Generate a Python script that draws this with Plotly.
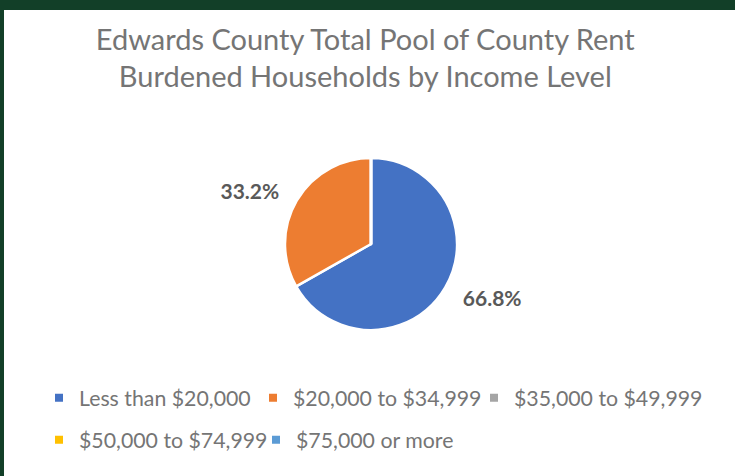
import plotly.graph_objects as go

categories = ["Less than $20,000", "$20,000 to $34,999", "$35,000 to $49,999",
              "$50,000 to $74,999", "$75,000 or more"]
values = [66.8, 33.2, 0, 0, 0]
colors = ["#4472C4", "#ED7D31", "#A5A5A5", "#FFC000", "#5B9BD5"]
title_lines = ["Edwards County Total Pool of County Rent",
               "Burdened Households by Income Level"]

W, H = 735, 476
FONT = "Lato, Open Sans, sans-serif"
GRAY = "#757575"
CX, CY, R = 371, 244, 86
R_LABEL = R + 13   # labels sit a little further out than the slice edge
# legend entry placement (left x in px, row centre y in px)
LEG_POS = [(39, 398), (253, 398), (474, 398), (39, 440), (256, 440)]


def dom(r):
    return dict(x=[(CX - r) / W, (CX + r) / W],
                y=[1 - (CY + r) / H, 1 - (CY - r) / H])


common = dict(labels=categories, values=values, sort=False,
              direction="clockwise", rotation=0, showlegend=False)

fig = go.Figure()
# visible pie
fig.add_trace(go.Pie(
    marker=dict(colors=colors, line=dict(color="white", width=2.5)),
    textinfo="none", domain=dom(R), hoverinfo="label+percent", **common,
))
# transparent ring that only carries the outside percentage labels
fig.add_trace(go.Pie(
    marker=dict(colors=["rgba(0,0,0,0)"] * len(values),
                line=dict(width=0)),
    textposition="outside",
    texttemplate=["%{percent:.1%}" if v > 0 else "" for v in values],
    textfont=dict(family=FONT, size=21, color="#595959", weight="bold"),
    domain=dom(R_LABEL), hoverinfo="skip", **common,
))

leg = dict(orientation="h", xanchor="left", yanchor="middle",
           font=dict(family=FONT, size=21.3, color=GRAY),
           bgcolor="rgba(0,0,0,0)", itemwidth=30,
           itemclick=False, itemdoubleclick=False)
legends = {}
for i, (name, col) in enumerate(zip(categories, colors)):
    key = "legend" if i == 0 else f"legend{i + 1}"
    fig.add_trace(go.Scatter(
        x=[None], y=[None], mode="markers", name=name,
        marker=dict(symbol="square", size=8, color=col), legend=key,
    ))
    lx, ly = LEG_POS[i]
    legends[key] = dict(x=lx / W, y=1 - ly / H, **leg)

fig.update_layout(
    width=W, height=H,
    margin=dict(l=0, r=0, t=0, b=0),
    paper_bgcolor="#123F28",
    plot_bgcolor="rgba(0,0,0,0)",
    xaxis=dict(visible=False), yaxis=dict(visible=False),
    showlegend=True,
    title=dict(text="<br>".join(title_lines), x=0.497, xanchor="center",
               y=1 - 49.5 / H, yanchor="middle",
               font=dict(family=FONT, size=29, color=GRAY)),
    shapes=[dict(type="rect", xref="paper", yref="paper", x0=4 / W, x1=1.01,
                 y0=-0.01, y1=1 - 10 / H, fillcolor="white",
                 line=dict(width=0), layer="below")],
    **legends,
)
fig.write_html("out.html", config={"displayModeBar": False},
               post_script="document.body.style.margin='0';"
                           "document.body.style.overflow='hidden';")
